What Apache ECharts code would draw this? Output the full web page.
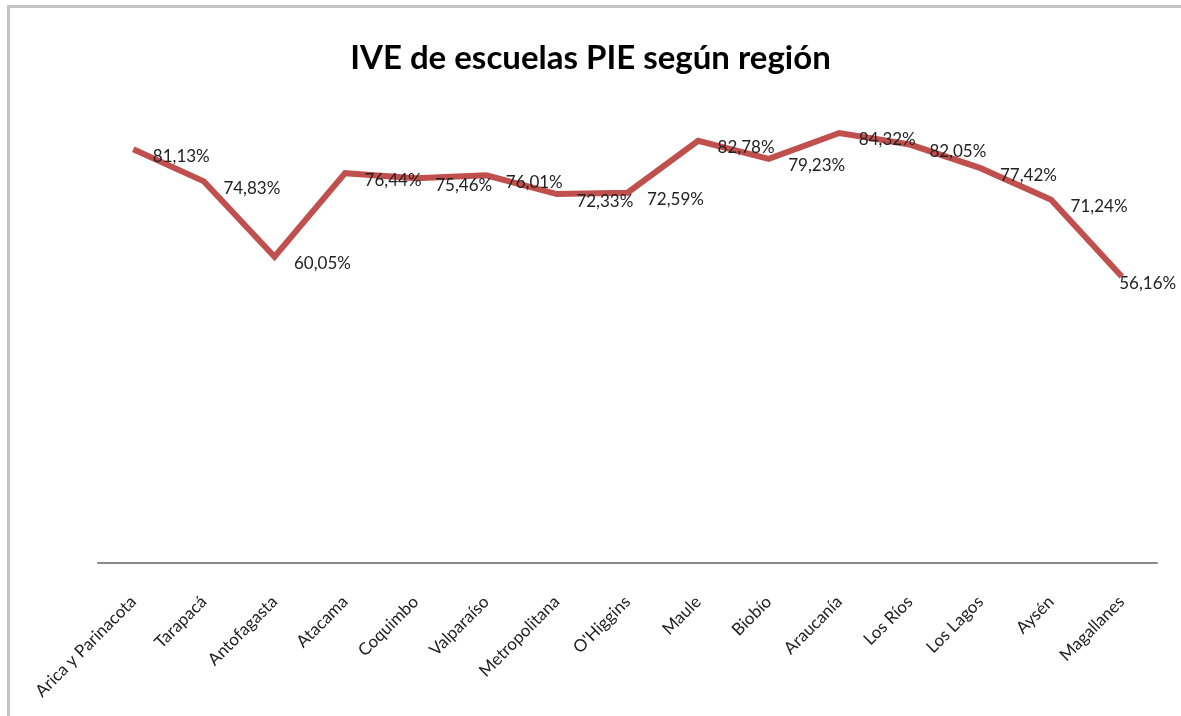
<!DOCTYPE html>
<html>
<head>
<meta charset="utf-8">
<script src="https://cdn.jsdelivr.net/npm/echarts@6/dist/echarts.min.js"></script>
<style>
html,body{margin:0;padding:0;background:#fff;}
#frame{
    position:absolute;left:7px;top:5px;width:1180px;height:720px;
    border-left:3px solid #c4c4c4;border-top:3px solid #c4c4c4;
    border-right:1px solid #e4e4e4;
    box-sizing:border-box;
}
#chart{position:absolute;left:0;top:0;width:1181px;height:716px;}
</style>
</head>
<body>
<div id="frame"></div>
<div id="chart"></div>
<script>
// regiones
var regiones = ['Arica y Parinacota','Tarapacá','Antofagasta','Atacama','Coquimbo','Valparaíso','Metropolitana',"O'Higgins",'Maule','Biobío','Araucanía','Los Ríos','Los Lagos','Aysén','Magallanes'];
// IVE (%)
var ive = [81.13, 74.83, 60.05, 76.44, 75.46, 76.01, 72.33, 72.59, 82.78, 79.23, 84.32, 82.05, 77.42, 71.24, 56.16];

// la ultima etiqueta se corre a la izquierda para que quepa
var serieData = ive.map(function(v, i){
    if (i === ive.length - 1) {
        return {value:v, label:{offset:[-3,7]}};
    }
    return v;
});

var myChart = echarts.init(document.getElementById('chart'));
myChart.setOption({
    animation:false,
    title:{
        text:'IVE de escuelas PIE según región',
        left:'center',
        top:37,
        textStyle:{
            fontFamily:'Lato',
            fontWeight:'bold',
            fontSize:33,
            color:'#000'
        }
    },
    grid:{
        left:98,
        right:24,
        top:53,
        bottom:153
    },
    xAxis:{
        type:'category',
        data:regiones,
        boundaryGap:true,
        axisLine:{
            lineStyle:{color:'#8a8a8a',width:2}
        },
        axisTick:{show:false},
        axisLabel:{
            rotate:45,
            margin:36,
            interval:0,
            fontFamily:'Lato',
            fontSize:17,
            color:'#222'
        }
    },
    yAxis:{
        type:'value',
        min:0,
        max:100,
        show:false,
        splitLine:{show:false}
    },
    series:[{
        type:'line',
        data:serieData,
        showSymbol:true,
        symbol:'circle',
        symbolSize:1,
        itemStyle:{color:'rgba(0,0,0,0)',borderWidth:0},
        lineStyle:{color:'#c0504d',width:6,join:'miter'},
        label:{
            show:true,
            position:'right',
            distance:0,
            offset:[19,7],
            fontFamily:'Lato',
            fontSize:17,
            color:'#222',
            formatter:function(p){
                return p.value.toFixed(2).replace('.',',') + '%';
            }
        }
    }]
});
</script>
</body>
</html>
